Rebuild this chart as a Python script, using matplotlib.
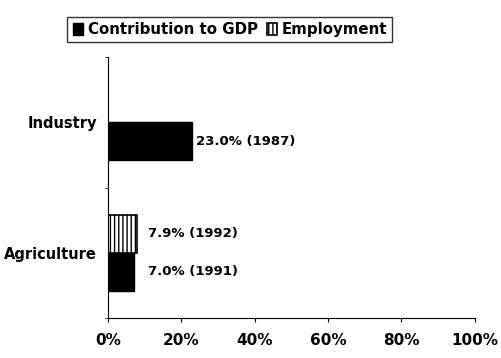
import numpy as np
import matplotlib.pyplot as plt

plt.rcParams['font.family'] = ['DejaVu Sans']
plt.rcParams['font.weight'] = 'bold'
plt.rcParams['hatch.linewidth'] = 1.0

categories = ["Agriculture", "Industry"]
gdp = [7.0, 23.0]
gdp_years = ["1991", "1987"]
employment = [7.9, None]
employment_years = ["1992", None]
xticks = [0, 20, 40, 60, 80, 100]

fig = plt.figure(figsize=(5.02, 3.58), dpi=100)
ax = fig.add_axes([0.215, 0.112, 0.731, 0.728])

y = np.arange(len(categories))
h = 0.29

# contribution bars (below the category centre)
ax.barh(y - h / 2, gdp, height=h, color="black", edgecolor="black",
        label="Contribution to GDP")
# employment bars (above), only where there is data
ey = [yy for yy, v in zip(y, employment) if v is not None]
ev = [v for v in employment if v is not None]
ax.barh(np.array(ey) + h / 2, ev, height=h, color="white", edgecolor="black",
        hatch="||||", linewidth=1.2, label="Employment")

for i in range(len(categories)):
    vals = [gdp[i]] + ([employment[i]] if employment[i] is not None else [])
    xpos = max(vals)
    ax.annotate(f"{gdp[i]:.1f}% ({gdp_years[i]})", (xpos, y[i] - h / 2),
                xytext=(3 if employment[i] is None else 8, 0),
                textcoords="offset points", va="center", fontsize=9.5,
                fontweight="bold")
    if employment[i] is not None:
        ax.annotate(f"{employment[i]:.1f}% ({employment_years[i]})",
                    (xpos, y[i] + h / 2), xytext=(8, 0),
                    textcoords="offset points", va="center", fontsize=9.5,
                    fontweight="bold")

ax.set_xlim(0, 100)
ax.set_ylim(-0.5, 1.5)
ax.set_xticks(xticks)
ax.set_xticklabels([f"{t}%" for t in xticks], fontsize=11, fontweight="bold")
ax.set_yticks(y)
ax.set_yticklabels(categories, fontsize=10.5, fontweight="bold")
ax.tick_params(axis="y", length=0, pad=8)
ax.tick_params(axis="x", length=3, direction="out", pad=8)
ax.set_yticks([-0.5, 0.5, 1.5], minor=True)
ax.tick_params(axis="y", which="minor", length=2)

for s in ["top", "right"]:
    ax.spines[s].set_visible(False)

leg = fig.legend(loc="center", bbox_to_anchor=(0.458, 0.917), ncol=2,
                 frameon=True, fancybox=False, edgecolor="black",
                 prop={"size": 10.8, "weight": "bold"}, handlelength=0.7,
                 handleheight=0.9, handletextpad=0.3, columnspacing=0.6,
                 borderpad=0.35)
leg.get_frame().set_linewidth(1.0)

fig.savefig("out.png", dpi=100)
